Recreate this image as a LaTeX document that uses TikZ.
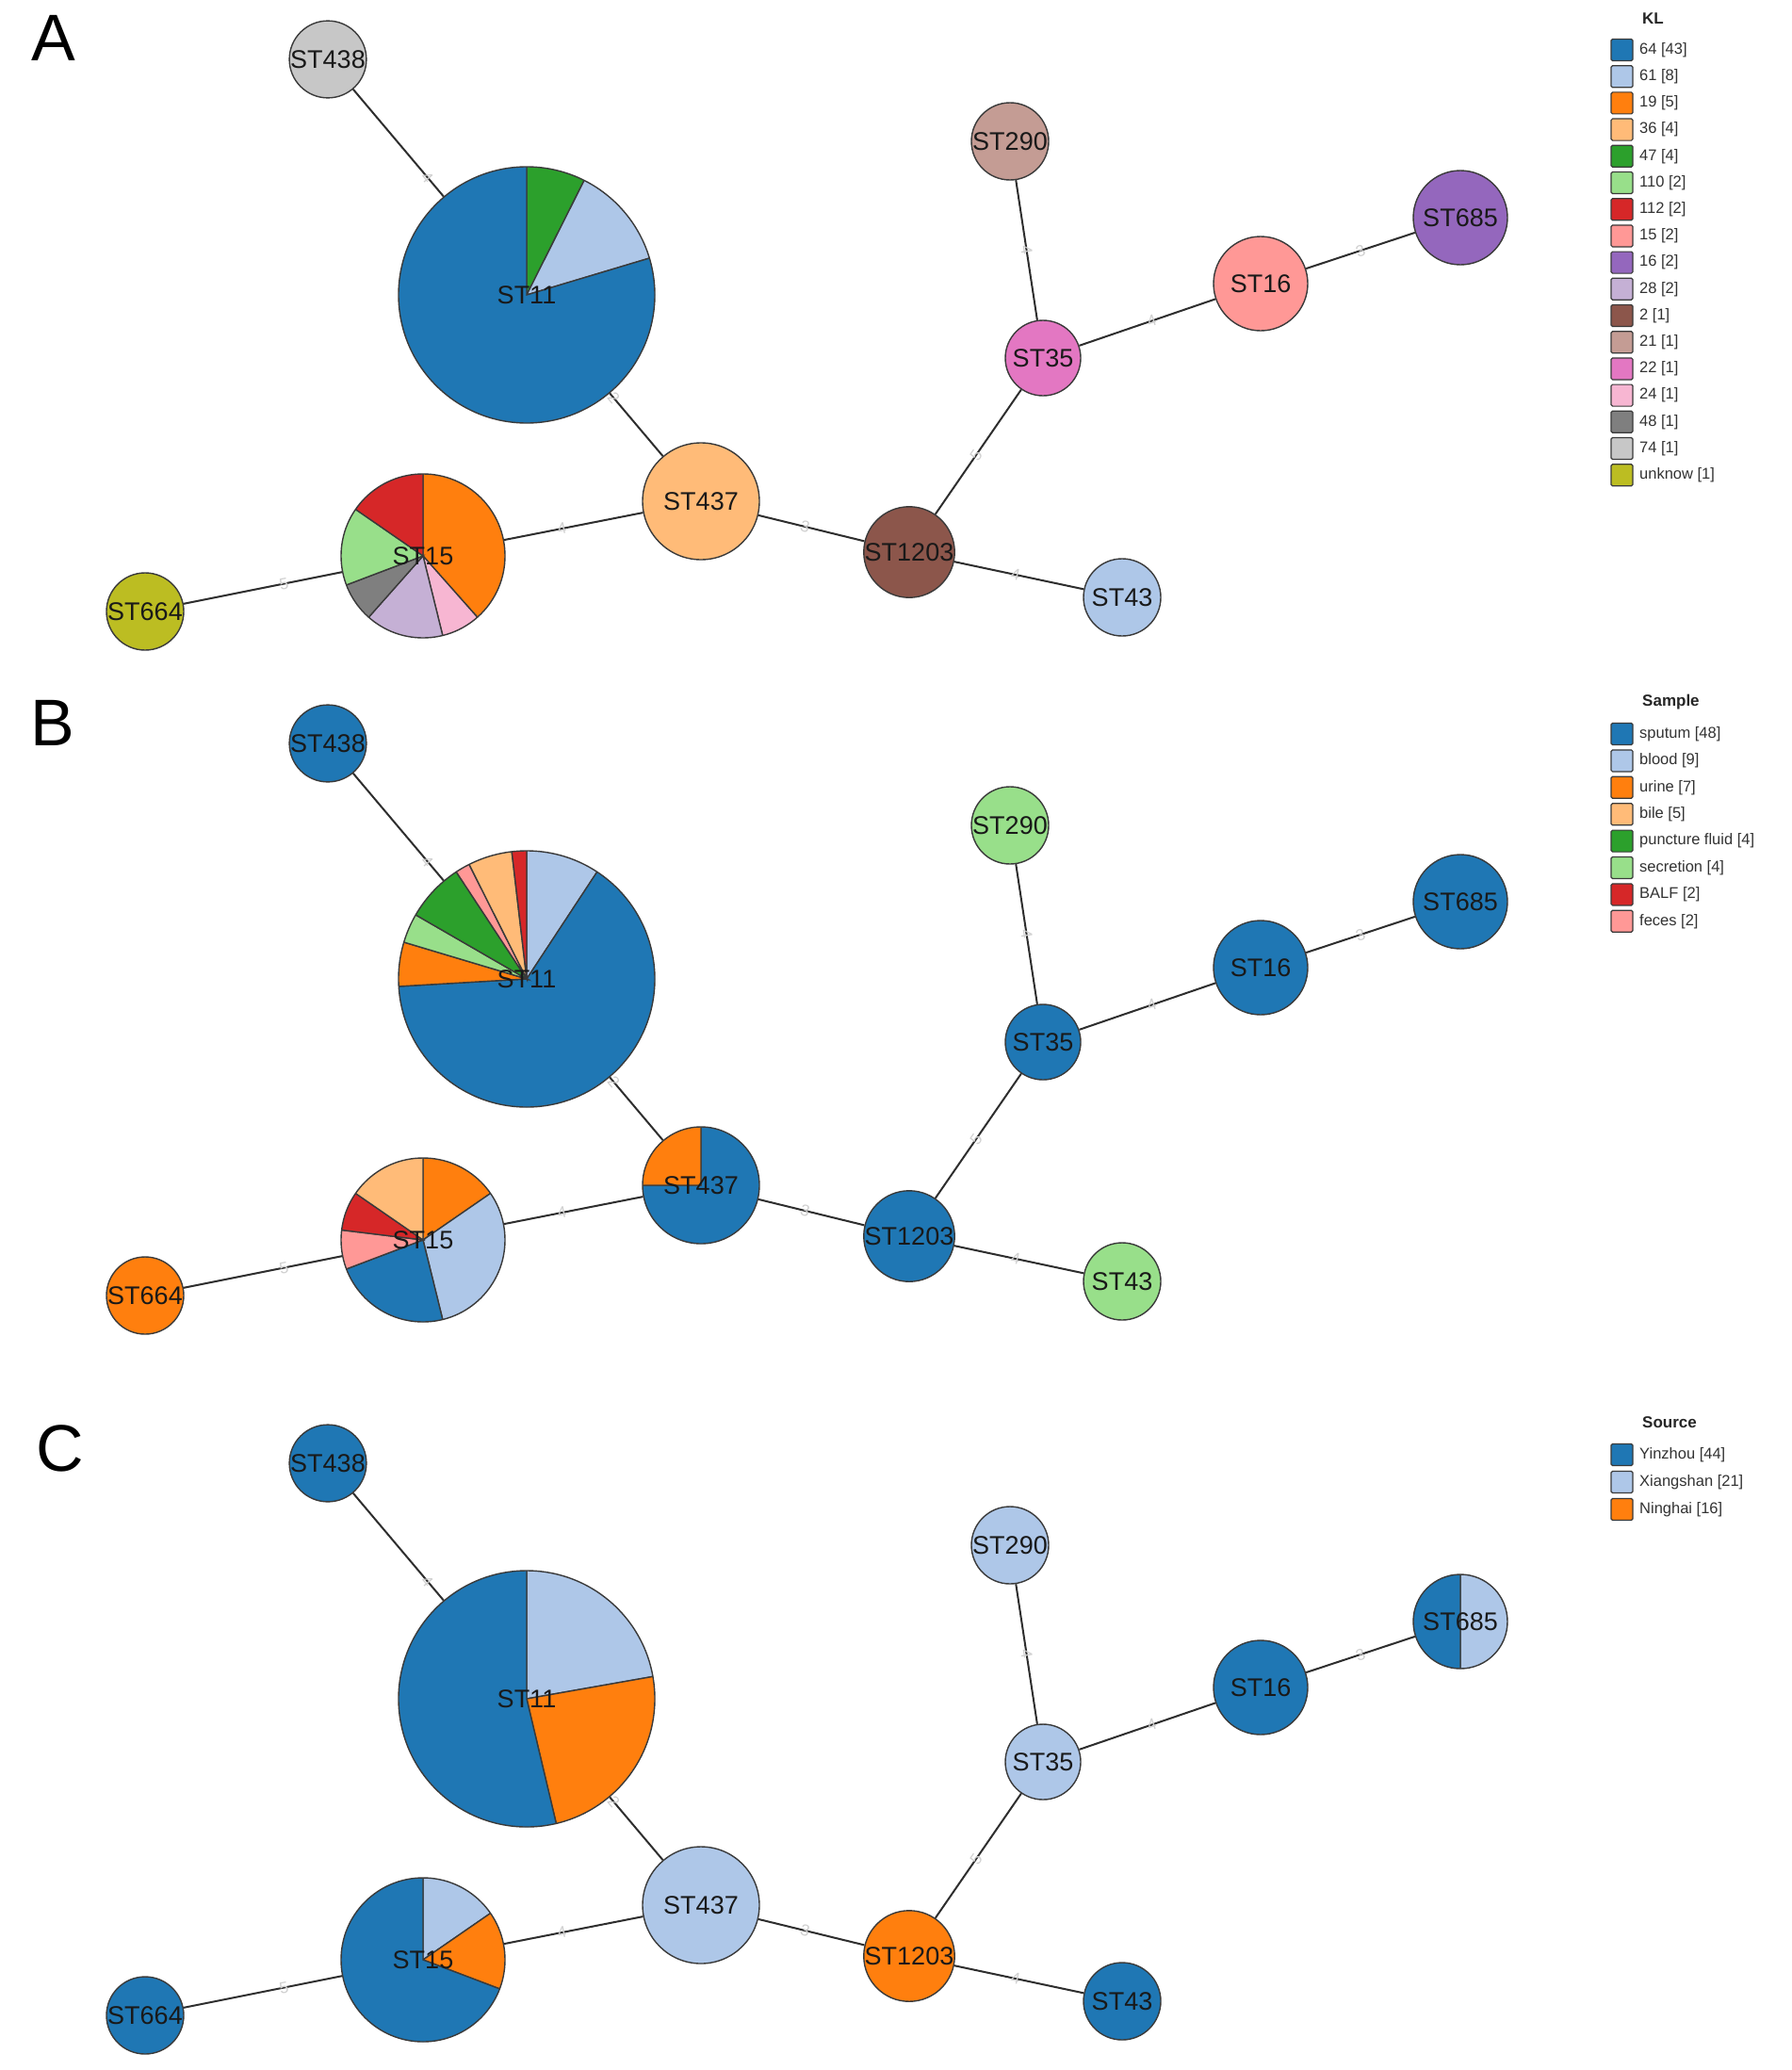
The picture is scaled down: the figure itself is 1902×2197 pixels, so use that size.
\documentclass[tikz,border=0pt]{standalone}
\usepackage{fontspec}
\setmainfont{Liberation Sans}
\definecolor{cBlue}{HTML}{1F77B4}
\definecolor{cLblue}{HTML}{AEC7E8}
\definecolor{cOrange}{HTML}{FF7F0E}
\definecolor{cLorange}{HTML}{FFBB78}
\definecolor{cGreen}{HTML}{2CA02C}
\definecolor{cLgreen}{HTML}{98DF8A}
\definecolor{cRed}{HTML}{D62728}
\definecolor{cSalmon}{HTML}{FF9896}
\definecolor{cPurple}{HTML}{9467BD}
\definecolor{cLav}{HTML}{C5B0D5}
\definecolor{cBrown}{HTML}{8C564B}
\definecolor{cTan}{HTML}{C49C94}
\definecolor{cPink}{HTML}{E377C2}
\definecolor{cLpink}{HTML}{F7B6D2}
\definecolor{cGray}{HTML}{7F7F7F}
\definecolor{cLgray}{HTML}{C7C7C7}
\definecolor{cOlive}{HTML}{BCBD22}
\definecolor{nodeline}{HTML}{3A3A3A}
\definecolor{edgec}{HTML}{2E2E2E}
\definecolor{labc}{HTML}{D0D0D0}
\definecolor{legtext}{HTML}{333333}
\tikzset{
  st/.style={circle, draw=nodeline, line width=1.4, inner sep=0, text=black!90,
    font=\fontsize{27}{27}\selectfont},
  pie/.style={path picture={\foreach \c/\a/\b in {#1}{\pgfmathsetmacro\sa{-1*(\a)}\pgfmathsetmacro\sb{-1*(\b)}\filldraw[fill=\c, draw=nodeline, line width=1.4]
    (path picture bounding box.center) -- ++(\sa:300) arc[start angle=\sa, end angle=\sb, radius=300] -- cycle;}}},
  edge/.style={draw=edgec, line width=2},
  elab/.style={text=labc, font=\fontsize{17}{17}\selectfont, inner sep=0, sloped},
  legsq/.style={draw=nodeline, line width=1.2, minimum size=23, inner sep=0, rounded corners=1.5},
  legtxt/.style={anchor=west, inner sep=0, text=legtext, font=\fontsize{16.5}{17}\selectfont},
  legtitle/.style={anchor=west, inner sep=0, text=black!85, font=\fontsize{17}{17}\selectfont\bfseries},
  panel/.style={font=\fontsize{70}{70}\selectfont, inner sep=0, text=black}
}
\begin{document}
\begin{tikzpicture}[x=1pt, y=-1pt]
\useasboundingbox (0,0) rectangle (1902,2197);
\fill[white] (0,0) rectangle (1902,2197);

% ================= Panel A =================
\node[panel] (LA) at (57,40) {A};
\node[st, minimum size=80, fill=cLgray] (A438) at (348,63) {ST438};
\node[st, minimum size=272, pie={cGreen/90/63.33, cLblue/63.33/16.67, cBlue/16.67/-270}] (A11) at (559,313) {ST11};
\node[st, minimum size=174, pie={cOrange/90/-48.46, cLpink/-48.46/-76.15, cLav/-76.15/-131.54, cGray/-131.54/-159.23, cLgreen/-159.23/-214.62, cRed/-214.62/-270}] (A15) at (449,590) {ST15};
\node[st, minimum size=82, fill=cOlive] (A664) at (154,649) {ST664};
\node[st, minimum size=124, fill=cLorange] (A437) at (744,532) {ST437};
\node[st, minimum size=80, fill=cBrown] (A1203) at (965,586) {ST1203};
\node[st, minimum size=82, fill=cLblue] (A43) at (1191,634) {ST43};
\node[st, minimum size=80, fill=cPink] (A35) at (1107,380) {ST35};
\node[st, minimum size=82, fill=cTan] (A290) at (1072,150) {ST290};
\node[st, minimum size=100, fill=cSalmon] (A16) at (1338,301) {ST16};
\node[st, minimum size=100, fill=cPurple] (A685) at (1550,231) {ST685};

% ================= Panel B =================
\node[panel] (LB) at (56,767) {B};
\node[st, minimum size=80, fill=cBlue] (B438) at (348,789) {ST438};
\node[st, minimum size=272, pie={cLblue/90/56.67, cBlue/56.67/-176.67, cOrange/-176.67/-196.67, cLgreen/-196.67/-210, cGreen/-210/-236.67, cSalmon/-236.67/-243.33, cLorange/-243.33/-263.33, cRed/-263.33/-270}] (B11) at (559,1039) {ST11};
\node[st, minimum size=174, pie={cOrange/90/34.62, cLblue/34.62/-76.15, cBlue/-76.15/-159.23, cSalmon/-159.23/-186.92, cRed/-186.92/-214.62, cLorange/-214.62/-270}] (B15) at (449,1316) {ST15};
\node[st, minimum size=82, fill=cOrange] (B664) at (154,1375) {ST664};
\node[st, minimum size=124, pie={cBlue/90/-180, cOrange/-180/-270}] (B437) at (744,1258) {ST437};
\node[st, minimum size=80, fill=cBlue] (B1203) at (965,1312) {ST1203};
\node[st, minimum size=82, fill=cLgreen] (B43) at (1191,1360) {ST43};
\node[st, minimum size=80, fill=cBlue] (B35) at (1107,1106) {ST35};
\node[st, minimum size=82, fill=cLgreen] (B290) at (1072,876) {ST290};
\node[st, minimum size=100, fill=cBlue] (B16) at (1338,1027) {ST16};
\node[st, minimum size=100, fill=cBlue] (B685) at (1550,957) {ST685};

% ================= Panel C =================
\node[panel] (LC) at (64,1537) {C};
\node[st, minimum size=80, fill=cBlue] (C438) at (348,1553) {ST438};
\node[st, minimum size=272, pie={cLblue/90/10, cOrange/10/-76.67, cBlue/-76.67/-270}] (C11) at (559,1803) {ST11};
\node[st, minimum size=174, pie={cLblue/90/34.62, cOrange/34.62/-20.77, cBlue/-20.77/-270}] (C15) at (449,2080) {ST15};
\node[st, minimum size=82, fill=cBlue] (C664) at (154,2139) {ST664};
\node[st, minimum size=124, fill=cLblue] (C437) at (744,2022) {ST437};
\node[st, minimum size=80, fill=cOrange] (C1203) at (965,2076) {ST1203};
\node[st, minimum size=82, fill=cBlue] (C43) at (1191,2124) {ST43};
\node[st, minimum size=80, fill=cLblue] (C35) at (1107,1870) {ST35};
\node[st, minimum size=82, fill=cLblue] (C290) at (1072,1640) {ST290};
\node[st, minimum size=100, fill=cBlue] (C16) at (1338,1791) {ST16};
\node[st, minimum size=100, pie={cLblue/90/-90, cBlue/-90/-270}] (C685) at (1550,1721) {ST685};

% ================= Edges =================
\foreach \p in {A,B,C}{
  \foreach \u/\v/\w in {438/11/4, 11/437/2, 15/437/4, 437/1203/3, 1203/43/4, 1203/35/5, 290/35/4, 35/16/4, 16/685/3, 664/15/5}{
    \draw[edge] (\p\u) -- (\p\v);
    \path (\p\u.center) -- (\p\v.center) node[elab, pos=.5] {\w};
  }
}

% ================= Legends =================
\node[legtitle] (klt) at (1743,20) {KL};
\foreach \c/\t [count=\i from 0] in {cBlue/64 [43], cLblue/61 [8], cOrange/19 [5], cLorange/36 [4], cGreen/47 [4], cLgreen/110 [2], cRed/112 [2], cSalmon/15 [2], cPurple/16 [2], cLav/28 [2], cBrown/2 [1], cTan/21 [1], cPink/22 [1], cLpink/24 [1], cGray/48 [1], cLgray/74 [1], cOlive/unknow [1]}{
  \node[legsq, fill=\c] (kls\i) at (1721.5, 53+28.2*\i) {};
  \node[legtxt] (klx\i) at (1740, 53+28.2*\i) {\t};
}
\node[legtitle] (smt) at (1743,745) {Sample};
\foreach \c/\t [count=\i from 0] in {cBlue/sputum [48], cLblue/blood [9], cOrange/urine [7], cLorange/bile [5], cGreen/puncture fluid [4], cLgreen/secretion [4], cRed/BALF [2], cSalmon/feces [2]}{
  \node[legsq, fill=\c] (sms\i) at (1721.5, 779+28.4*\i) {};
  \node[legtxt] (smx\i) at (1740, 779+28.4*\i) {\t};
}
\node[legtitle] (sot) at (1743,1510) {Source};
\foreach \c/\t [count=\i from 0] in {cBlue/Yinzhou [44], cLblue/Xiangshan [21], cOrange/Ninghai [16]}{
  \node[legsq, fill=\c] (sos\i) at (1721.5, 1544+29*\i) {};
  \node[legtxt] (sox\i) at (1740, 1544+29*\i) {\t};
}
\end{tikzpicture}
\end{document}
